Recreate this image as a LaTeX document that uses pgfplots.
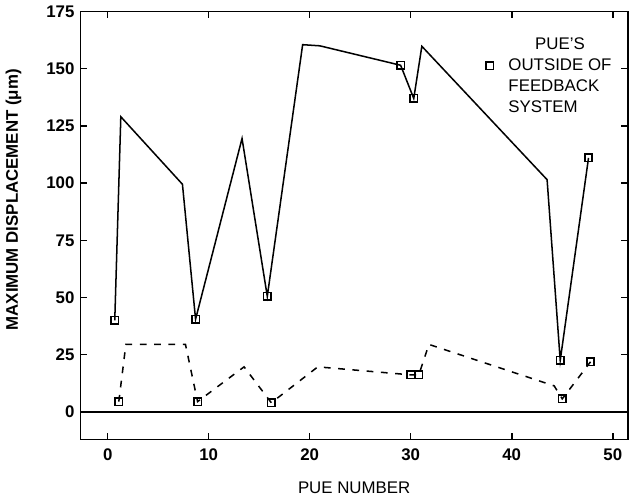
\documentclass[border=0pt]{standalone}
\usepackage{fontspec}
\setmainfont{Liberation Sans}
\usepackage{pgfplots}
\pgfplotsset{compat=1.18}

\begin{document}
\begin{tikzpicture}
\begin{axis}[
  scale only axis,
  width=325pt, height=254pt,
  xmin=-2.7, xmax=51.5,
  ymin=-12, ymax=175,
  xtick={0,10,...,50},
  ytick={0,25,...,175},
  tick align=inside,
  major tick length=4pt,
  axis line style={line width=1pt},
  tick style={line width=0.9pt, black},
  /pgf/number format/assume math mode=true,
  ticklabel style={font=\fontsize{10}{12}\selectfont\bfseries},
  xticklabel style={yshift=-2pt},
  xlabel={PUE NUMBER},
  ylabel={MAXIMUM DISPLACEMENT (μm)},
  xlabel style={font=\fontsize{10}{12}\selectfont, yshift=-6pt},
  ylabel style={font=\fontsize{10}{12}\selectfont\bfseries, at={(ticklabel cs:0.56)}, yshift=8pt},
  legend style={draw=none, fill=none, at={(rel axis cs:0.74,0.955)}, anchor=north west,
                font=\fontsize{10}{12.5}\selectfont, inner sep=0pt},
  legend image post style={yshift=-4pt},
  legend cell align=left,
  clip=false,
]
% zero line
\addplot[black, line width=1.3pt, forget plot] coordinates {(-2.7,0) (51.5,0)};

% solid series: maximum displacement without feedback
\addplot[black, line width=0.9pt, forget plot] coordinates {
  (0.7,40) (1.3,129) (7.4,99.5) (8.7,40.5) (13.3,119.5) (15.8,50.5)
  (19.3,160.5) (21,160) (29,151.5) (30.3,137) (31.1,159.8)
  (43.5,101.5) (44.8,22.5) (47.6,111)
};

% dashed series: with feedback
\addplot[black, line width=0.9pt, dash pattern=on 4pt off 4.5pt, forget plot] coordinates {
  (1.1,4.5) (1.8,29.5) (7.7,29.5) (8.9,4.5) (13.5,19.7) (16.2,4)
  (20.8,19.7) (30,16.2) (30.8,16.2) (31.8,29.5) (44.2,11.4) (45,5.7) (47.8,21.9)
};

% PUEs outside of feedback system
\addplot[only marks, mark=square, mark size=2.2pt, mark options={line width=0.9pt, fill=white}] coordinates {
  (0.7,40) (8.7,40.5) (15.8,50.5) (29,151.5) (30.3,137) (44.8,22.5) (47.6,111)
  (1.1,4.5) (8.9,4.5) (16.2,4) (30,16.2) (30.8,16.2) (45,5.7) (47.8,21.9)
};
\addlegendentry{\begin{tabular}{@{\hspace{7pt}}l@{}}\multicolumn{1}{@{\hspace{7pt}}c@{}}{PUE'S}\\OUTSIDE OF\\FEEDBACK\\SYSTEM\end{tabular}}
\end{axis}
\end{tikzpicture}
\end{document}
